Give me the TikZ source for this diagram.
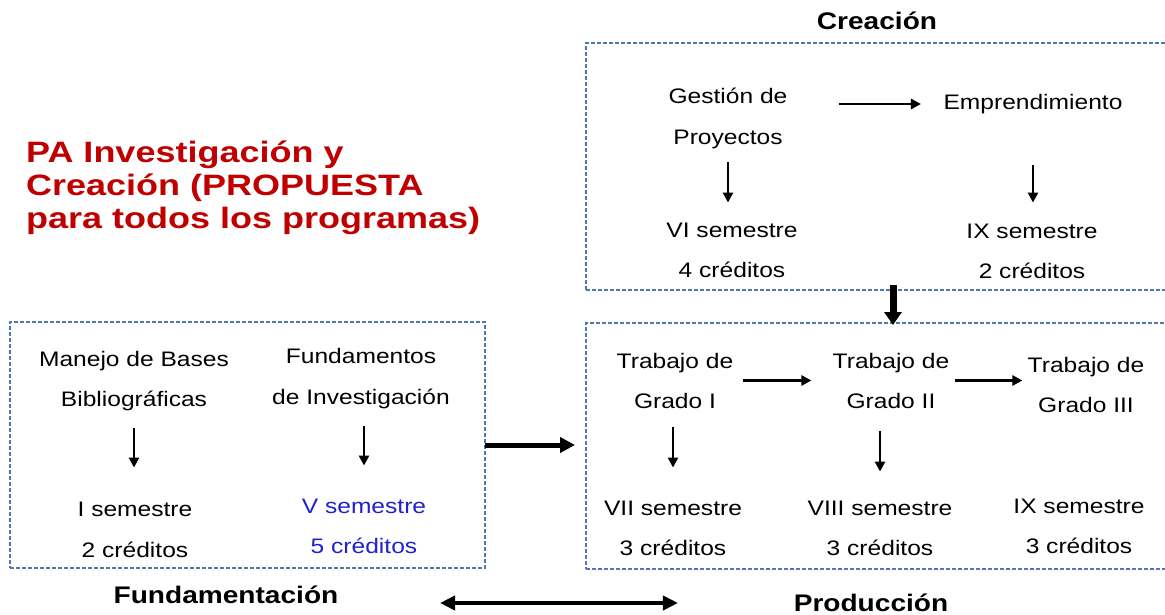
\documentclass[tikz,border=0pt]{standalone}
\usepackage{fontspec}
\setmainfont{Liberation Sans}[FakeStretch=1.17]
\newfontfamily\titlefont{Liberation Sans}[FakeStretch=1.22]
\usetikzlibrary{arrows.meta}
\definecolor{titlered}{RGB}{192,0,0}
\definecolor{vblue}{RGB}{32,32,204}
\definecolor{boxblue}{RGB}{79,120,176}
\newcommand\twoline[3]{\vtop{\baselineskip=#1\lineskiplimit=-50pt\lineskip=0pt\halign{\hfil##\hfil\cr#2\cr#3\cr}}}
\newcommand\titlelines[3]{\vtop{\baselineskip=33pt\lineskiplimit=-50pt\lineskip=0pt\halign{##\hfil\cr#1\cr#2\cr#3\cr}}}
\tikzset{
  txt/.style={font=\fontsize{21}{25}\selectfont, inner sep=0pt, outer sep=0pt, anchor=base},
  lbl/.style={font=\fontsize{24}{28}\selectfont\bfseries, inner sep=0pt, outer sep=0pt, anchor=base},
  dbox/.style={draw=boxblue, dash pattern=on 4pt off 2pt, line width=1.1pt, inner sep=0pt, outer sep=0pt},
  arr/.style={-{Triangle[length=10pt,width=10pt]}, line width=2.6pt},
  bigarr/.style={-{Triangle[length=15pt,width=15pt]}, line width=5pt},
  boxarr/.style={-{Triangle[length=13pt,width=17pt]}, line width=7pt},
  dblarr/.style={{Triangle[length=15pt,width=14pt]}-{Triangle[length=15pt,width=14pt]}, line width=4.5pt}
}
\begin{document}
\begin{tikzpicture}[x=1pt,y=-1pt]
\useasboundingbox (0,0) rectangle (1165,615);
% boxes
\node[dbox, minimum width=589pt, minimum height=247pt] (cb) at (880.5,166.5) {};
\node[dbox, minimum width=589pt, minimum height=246pt] (pb) at (880.5,446) {};
\node[dbox, minimum width=475pt, minimum height=246pt] (fb) at (247.5,445) {};
% title
\node[anchor=base west, inner sep=0pt, text=titlered, font=\titlefont\fontsize{29.5}{33}\selectfont\bfseries] (title) at (26,163) {\titlelines{PA Investigación y}{Creación (PROPUESTA}{para todos los programas)}};
% labels
\node[lbl] (lc) at (877,30) {Creación};
\node[lbl] (lf) at (226,603) {Fundamentación};
\node[lbl] (lp) at (871,611) {Producción};
% creation box
\node[txt] (gp) at (728,104) {\twoline{41pt}{Gestión de}{Proyectos}};
\node[txt] (em) at (1033,110) {Emprendimiento};
\node[txt] (s6) at (732,237) {\twoline{40pt}{VI semestre}{4 créditos}};
\node[txt] (s9a) at (1032,238) {\twoline{40pt}{IX semestre}{2 créditos}};
% production box
\node[txt] (tg1) at (675,368) {\twoline{40pt}{Trabajo de}{Grado I}};
\node[txt] (tg2) at (891,368) {\twoline{40pt}{Trabajo de}{Grado II}};
\node[txt] (tg3) at (1086,372) {\twoline{40pt}{Trabajo de}{Grado III}};
\node[txt] (s7) at (673,515) {\twoline{40pt}{VII semestre}{3 créditos}};
\node[txt] (s8) at (880,515) {\twoline{40pt}{VIII semestre}{3 créditos}};
\node[txt] (s9b) at (1079,513) {\twoline{40pt}{IX semestre}{3 créditos}};
% foundation box
\node[txt] (mb) at (134,366.5) {\twoline{40pt}{Manejo de Bases}{Bibliográficas}};
\node[txt] (fi) at (361,363) {\twoline{41pt}{Fundamentos}{de Investigación}};
\node[txt] (s1) at (135,516) {\twoline{41pt}{I semestre}{2 créditos}};
\node[txt, text=vblue] (s5) at (364,513) {\twoline{40pt}{V semestre}{5 créditos}};
% thin arrows
\draw[arr, shorten <=51.6pt, shorten >=22.6pt] (gp.base east) -- (gp.base east -| em.west);
\draw[arr, shorten <=12.6pt, shorten >=20pt] (gp.south) -- (gp.south |- s6.north);
\draw[arr, shorten <=50.6pt, shorten >=21pt] (em.south) -- (em.south |- s9a.north);
\draw[arr, shorten <=9.3pt, shorten >=21.3pt] (tg1.east) -- (tg2.west);
\draw[arr, shorten <=5.3pt, shorten >=5.3pt] (tg2.east) -- (tg2.east -| tg3.west);
\draw[arr, shorten <=18.7pt, shorten >=33pt] (s7.north |- tg1.south) -- (s7.north);
\draw[arr, shorten <=22.7pt, shorten >=29pt] (s8.north |- tg2.south) -- (s8.north);
\draw[arr, shorten <=17pt, shorten >=34pt] (mb.south) -- (mb.south |- s1.north);
\draw[arr, shorten <=17.6pt, shorten >=33pt] (s5.north |- fi.south) -- (s5.north);
% thick arrows
\draw[bigarr, shorten >=11pt] (fb.east) -- (fb.east -| pb.west);
\draw[boxarr] ([xshift=307pt, yshift=5pt]cb.south west) -- ([xshift=307pt, yshift=-2pt]pb.north west);
\draw[dblarr, shorten <=101.7pt, shorten >=115.8pt] (lf.base east) -- (lf.base east -| lp.west);
\end{tikzpicture}
\end{document}
